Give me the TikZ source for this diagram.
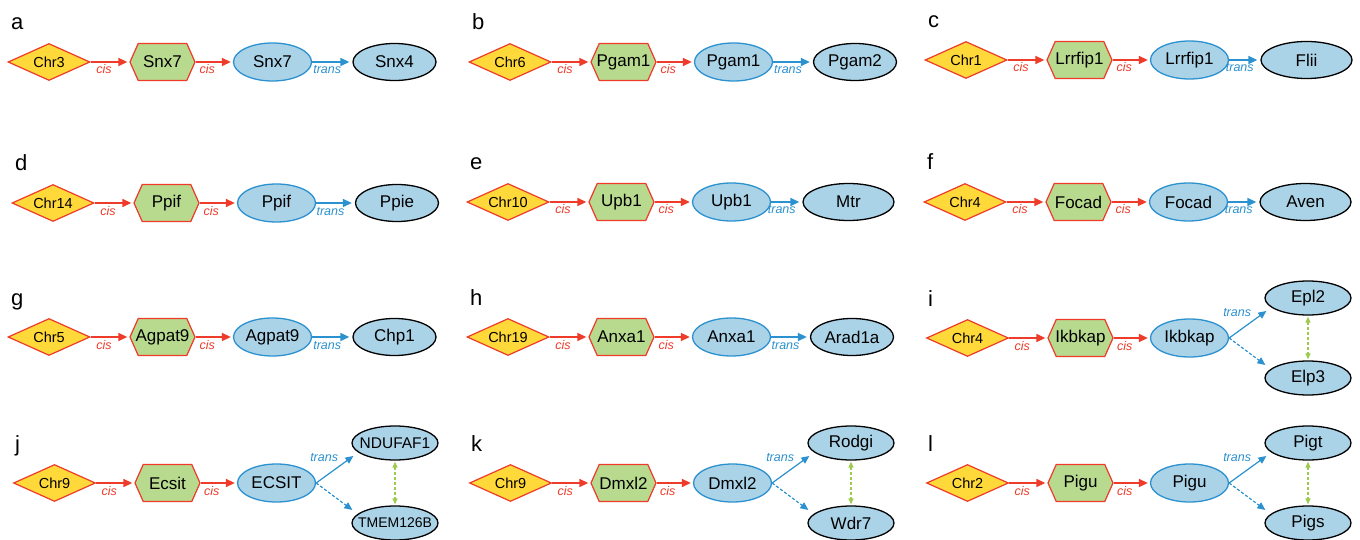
\documentclass[tikz,border=0pt]{standalone}
\usepackage{fontspec}
\setmainfont{Liberation Sans}
\usetikzlibrary{shapes.geometric,shapes.symbols,arrows.meta}

\definecolor{chryellow}{HTML}{FFD83A}
\definecolor{cisred}{HTML}{EE3B2A}
\definecolor{hexgreen}{HTML}{B8DA8E}
\definecolor{nodeblue}{HTML}{ABD3E8}
\definecolor{edgeblue}{HTML}{2C91CF}
\definecolor{linkgreen}{HTML}{9CCB4E}

% text of zero width, so every shape keeps its fixed size
\newcommand\fixed[1]{\makebox[0pt]{#1}}
\newcommand\smallgene[2]{{\fontsize{#1}{#1}\selectfont #2}}

\tikzset{
  genefont/.style={font=\fontsize{17}{17}\selectfont},
  chrnode/.style={diamond, aspect=2.2, draw=cisred, fill=chryellow, line width=1.2pt,
    minimum width=82pt, minimum height=37pt, inner sep=0pt, font=\fontsize{14.5}{14.5}\selectfont},
  hexnode/.style={signal, signal to=west and east, signal pointer angle=132, draw=cisred,
    fill=hexgreen, line width=1.2pt, minimum width=65pt, minimum height=37pt, inner sep=0pt, genefont},
  srcnode/.style={ellipse, draw=edgeblue, fill=nodeblue, line width=1.3pt,
    minimum width=78pt, minimum height=38pt, inner sep=0pt, genefont},
  tgtnode/.style={ellipse, draw=black, fill=nodeblue, line width=1.3pt,
    minimum width=83pt, minimum height=37pt, inner sep=0pt, genefont},
  partner/.style={tgtnode, minimum width=86pt, minimum height=34pt},
  cisarrow/.style={draw=cisred, line width=1.5pt, -{Triangle[length=9pt,width=8pt]}, shorten >=2pt},
  transarrow/.style={draw=edgeblue, line width=1.5pt, -{Triangle[length=9pt,width=8pt]}, shorten >=3pt},
  brancharrow/.style={draw=edgeblue, line width=1.2pt, -{Triangle[length=8pt,width=7pt]}},
  dashedbranch/.style={brancharrow, dash pattern=on 3pt off 2pt},
  linkarrow/.style={draw=linkgreen, line width=1.1pt, dash pattern=on 3pt off 2pt,
    {Triangle[length=6pt,width=5pt]}-{Triangle[length=6pt,width=5pt]}, shorten <=1pt, shorten >=1pt},
  cislabel/.style={font=\fontsize{12.5}{12.5}\selectfont\itshape, text=cisred, anchor=base, inner sep=0pt},
  translabel/.style={font=\fontsize{12.5}{12.5}\selectfont\itshape, text=edgeblue, anchor=base, inner sep=0pt},
  panellabel/.style={font=\fontsize{22}{22}\selectfont, anchor=base west, inner sep=0pt},
}

% linear chain: chromosome -> cis gene -> transcript -> trans target
% #1 letter, #2 left x, #3 row y, #4 chromosome, #5 hexagon gene, #6 ellipse gene,
% #7 target, #8 target centre offset, #9 target width
\newcommand\chainpanel[9]{%
  \node[panellabel] (#1lab) at (#2+3, #3-32) {#1};
  \node[chrnode] (#1chr) at (#2+41, #3) {\fixed{#4}};
  \node[hexnode] (#1hex) at (#2+154.5, #3) {\fixed{#5}};
  \node[srcnode] (#1src) at (#2+264.5, #3) {\fixed{#6}};
  \node[tgtnode, minimum width=#9pt] (#1tgt) at (#2+#8, #3) {\fixed{#7}};
  \draw[cisarrow] (#1chr.east) -- node[cislabel, xshift=-6pt, yshift=-12pt] (#1cisa) {cis} (#1hex.west);
  \draw[cisarrow] (#1hex.east) -- node[cislabel, xshift=-7pt, yshift=-12pt] (#1cisb) {cis} (#1src.west);
  \draw[transarrow] (#1src.east) -- node[translabel, xshift=-5pt, yshift=-12pt] (#1trans) {trans} (#1tgt.west);
}

% branching chain: transcript acts on two linked partners
% #1 letter, #2 left x, #3 row y, #4 chromosome, #5 hexagon gene, #6 ellipse gene,
% #7 upper partner, #8 lower partner
\newcommand\branchpanel[8]{%
  \node[panellabel] (#1lab) at (#2+1, #3-32) {#1};
  \node[chrnode] (#1chr) at (#2+40.5, #3) {\fixed{#4}};
  \node[hexnode] (#1hex) at (#2+153.5, #3) {\fixed{#5}};
  \node[srcnode] (#1src) at (#2+262.5, #3) {\fixed{#6}};
  \node[partner] (#1up) at (#2+381, #3-40) {\fixed{#7}};
  \node[partner] (#1dn) at (#2+381, #3+40) {\fixed{#8}};
  \draw[cisarrow] (#1chr.east) -- node[cislabel, xshift=-6pt, yshift=-12pt] (#1cisa) {cis} (#1hex.west);
  \draw[cisarrow] (#1hex.east) -- node[cislabel, xshift=-7pt, yshift=-12pt] (#1cisb) {cis} (#1src.west);
  \draw[brancharrow] (#1src.east) -- ([xshift=2pt,yshift=-13pt]#1up.west);
  \draw[dashedbranch] (#1src.east) -- ([xshift=1pt,yshift=13pt]#1dn.west);
  \node[translabel] (#1trans) at ([xshift=8pt,yshift=22pt]#1src.east) {trans};
  \draw[linkarrow] (#1up.south) -- (#1dn.north);
}

\begin{document}
\begin{tikzpicture}[x=1pt, y=-1pt]
  \useasboundingbox[fill=white] (0,0) rectangle (1360,540);

  \chainpanel{a}{8}{62}{Chr3}{Snx7}{Snx7}{Snx4}{386.5}{83}
  \chainpanel{b}{469}{62}{Chr6}{Pgam1}{Pgam1}{Pgam2}{386}{83}
  \chainpanel{c}{925}{60}{Chr1}{Lrrfip1}{Lrrfip1}{Flii}{381.5}{91}

  \chainpanel{d}{12}{203}{Chr14}{Ppif}{Ppif}{Ppie}{385}{83}
  \chainpanel{e}{467}{202}{Chr10}{Upb1}{Upb1}{Mtr}{381.5}{91}
  \chainpanel{f}{924}{202}{Chr4}{Focad}{Focad}{Aven}{381.5}{91}

  \chainpanel{g}{8}{337}{Chr5}{Agpat9}{Agpat9}{Chp1}{386.5}{83}
  \chainpanel{h}{467}{337}{Chr19}{Anxa1}{Anxa1}{Arad1a}{385}{83}
  \branchpanel{i}{927}{338}{Chr4}{Ikbkap}{Ikbkap}{Epl2}{Elp3}

  \branchpanel{j}{14}{483}{Chr9}{Ecsit}{ECSIT}{\smallgene{15.5}{NDUFAF1}}{\smallgene{14}{TMEM126B}}
  \branchpanel{k}{470}{483}{Chr9}{Dmxl2}{Dmxl2}{Rodgi}{Wdr7}
  \branchpanel{l}{927}{483}{Chr2}{Pigu}{Pigu}{Pigt}{Pigs}
\end{tikzpicture}
\end{document}
